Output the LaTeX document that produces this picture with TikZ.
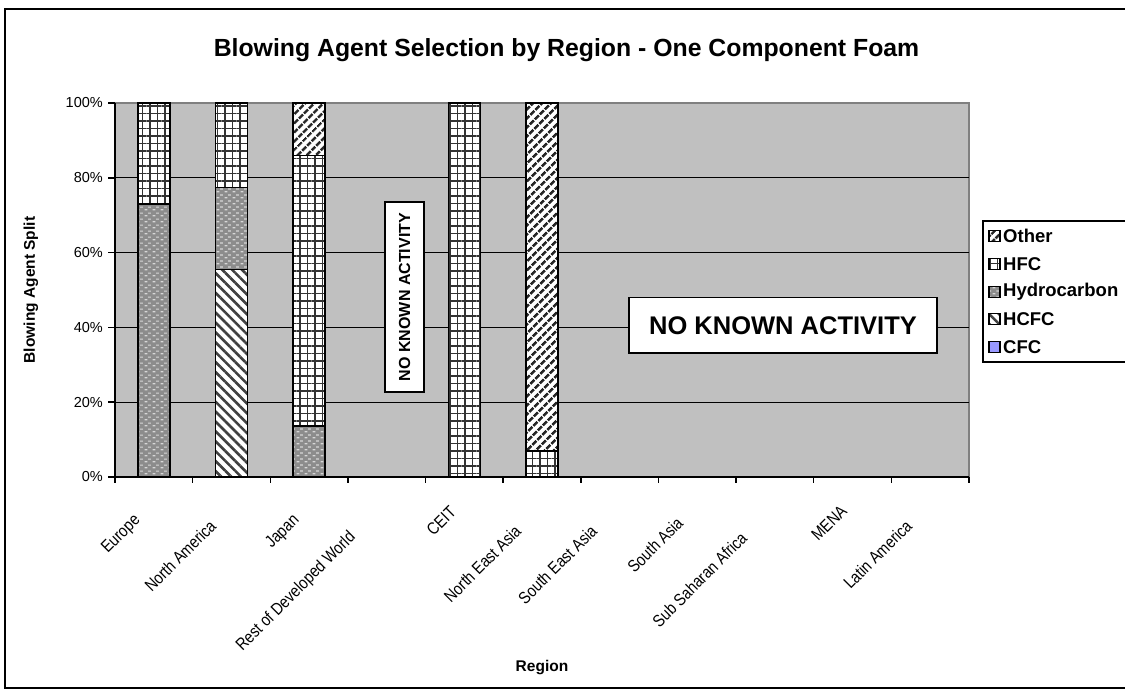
\documentclass[tikz,border=0pt]{standalone}
\usepackage{fontspec}
\setmainfont{Liberation Sans}
\newfontfamily\narrowf[FakeStretch=0.85]{Liberation Sans}
\usetikzlibrary{patterns,patterns.meta}
\pgfdeclarepatternformonly{hcpat}{\pgfqpoint{0pt}{0pt}}{\pgfqpoint{8pt}{6pt}}{\pgfqpoint{8pt}{6pt}}{%
  \pgfsetlinewidth{1.4pt}%
  \pgfpathmoveto{\pgfqpoint{0.6pt}{1.5pt}}\pgfpathlineto{\pgfqpoint{3.6pt}{1.5pt}}%
  \pgfpathmoveto{\pgfqpoint{4.6pt}{4.5pt}}\pgfpathlineto{\pgfqpoint{7.6pt}{4.5pt}}%
  \pgfusepath{stroke}}
\definecolor{plotbg}{RGB}{192,192,192}
\definecolor{hcg}{RGB}{140,140,140}
\definecolor{hcl}{RGB}{215,215,215}
\definecolor{cfcblue}{RGB}{153,153,255}
\definecolor{frameg}{RGB}{128,128,128}
\newcommand\stk[4]{\draw[barline,#4] ({#1-16},{477-3.74*#2}) rectangle ({#1+16},{477-3.74*#3});}
\begin{document}
\begin{tikzpicture}[x=1pt,y=-1pt,
  barline/.style={draw=black,line width=1.5pt},
  hfc/.style={preaction={fill=white},pattern={Hatch[angle=0,distance=7.5pt,line width=1.4pt]},pattern color=black!80},
  hydro/.style={preaction={fill=hcg},pattern=hcpat,pattern color=hcl},
  hcfc/.style={preaction={fill=white},pattern={Lines[angle=-45,distance=7pt,line width=2.6pt]},pattern color=black!75},
  other/.style={preaction={fill=white},pattern={Lines[angle=45,distance=6.5pt,line width=2.8pt]},pattern color=black!85},
  cfc/.style={fill=cfcblue},
  ticklab/.style={font=\fontsize{14.5}{16}\selectfont,inner sep=0pt},
  catlab/.style={font=\narrowf\fontsize{17}{19}\selectfont,inner sep=0pt,rotate=45,anchor=east},
  axtitle/.style={font=\fontsize{15.5}{17}\selectfont\bfseries,inner sep=0pt},
  legtext/.style={font=\fontsize{18.5}{20}\selectfont\bfseries,inner sep=0pt,anchor=west},
  nka/.style={draw=black,line width=1.5pt,fill=white}]
\clip (0,0) rectangle (1125,691);
\fill[white] (0,0) rectangle (1125,691);
\draw[line width=1.8pt] (5,9) rectangle (1140,688);
\node[font=\fontsize{24.8}{28}\selectfont\bfseries,inner sep=0pt] (title) at (566.5,50) {Blowing Agent Selection by Region - One Component Foam};
% plot area
\fill[plotbg] (115,103) rectangle (969,477);
\draw[frameg,line width=1.2pt] (115,103) -- (969,103) -- (969,477);
\foreach \p in {20,40,60,80}
  \draw[line width=1.2pt] (115,{477-3.74*\p}) -- (969,{477-3.74*\p});
\draw[line width=1.5pt] (115,103) -- (115,477) -- (969,477);
\foreach \p in {0,20,40,60,80,100} {
  \draw[line width=1.5pt] (108,{477-3.74*\p}) -- (115,{477-3.74*\p});
  \node[ticklab,anchor=east] (yl\p) at (103,{477-3.74*\p}) {\p\%};
}
\foreach \k in {0,...,11}
  \draw[line width=1.5pt] ({115+77.636*\k},477) -- ({115+77.636*\k},483);
% bars
\stk{153.8}{0}{73}{hydro}
\stk{153.8}{73}{100}{hfc}
\stk{231.5}{0}{55.5}{hcfc}
\stk{231.5}{55.5}{77.4}{hydro}
\stk{231.5}{77.4}{100}{hfc}
\stk{309.1}{0}{13.7}{hydro}
\stk{309.1}{13.7}{85.9}{hfc}
\stk{309.1}{85.9}{100}{other}
\stk{464.4}{0}{100}{hfc}
\stk{542.0}{0}{7}{hfc}
\stk{542.0}{7}{100}{other}
% no known activity boxes
\draw[nka] (385,202) rectangle (424,392);
\node[font=\fontsize{16}{18}\selectfont\bfseries,rotate=90,inner sep=0pt] (nkav) at (404.5,297) {NO KNOWN ACTIVITY};
\draw[nka] (629,297.5) rectangle (937,353);
\node[font=\fontsize{25.5}{28}\selectfont\bfseries,inner sep=0pt] (nkah) at (783,325.5) {NO KNOWN ACTIVITY};
% category labels
\node[catlab] (c1) at (138,518) {Europe};
\node[catlab] (c2) at (213,523) {North America};
\node[catlab] (c3) at (297,518) {Japan};
\node[catlab] (c4) at (353,535) {Rest of Developed World};
\node[catlab] (c5) at (453,509) {CEIT};
\node[catlab] (c6) at (518,528) {North East Asia};
\node[catlab] (c7) at (594,528) {South East Asia};
\node[catlab] (c8) at (680,520) {South Asia};
\node[catlab] (c9) at (744,535) {Sub Saharan Africa};
\node[catlab] (c10) at (844,508) {MENA};
\node[catlab] (c11) at (909,523) {Latin America};
% axis titles
\node[axtitle,rotate=90] (ytitle) at (31,290) {Blowing Agent Split};
\node[axtitle] (xtitle) at (542,668) {Region};
% legend
\draw[line width=1.5pt,fill=white] (983,221) rectangle (1140,362);
\draw[line width=1.2pt,other] (989,230.5) rectangle (1000,241.5);
\node[legtext] (l1) at (1003,236) {Other};
\draw[line width=1.2pt,hfc] (989,258.5) rectangle (1000,269.5);
\node[legtext] (l2) at (1003,264) {HFC};
\draw[line width=1.2pt,hydro] (989,286.2) rectangle (1000,297.2);
\node[legtext] (l3) at (1003,291.7) {Hydrocarbon};
\draw[line width=1.2pt,hcfc] (989,313.8) rectangle (1000,324.8);
\node[legtext] (l4) at (1003,319.3) {HCFC};
\draw[line width=1.2pt,cfc] (989,341.2) rectangle (1000,352.2);
\node[legtext] (l5) at (1003,346.7) {CFC};
\end{tikzpicture}
\end{document}
